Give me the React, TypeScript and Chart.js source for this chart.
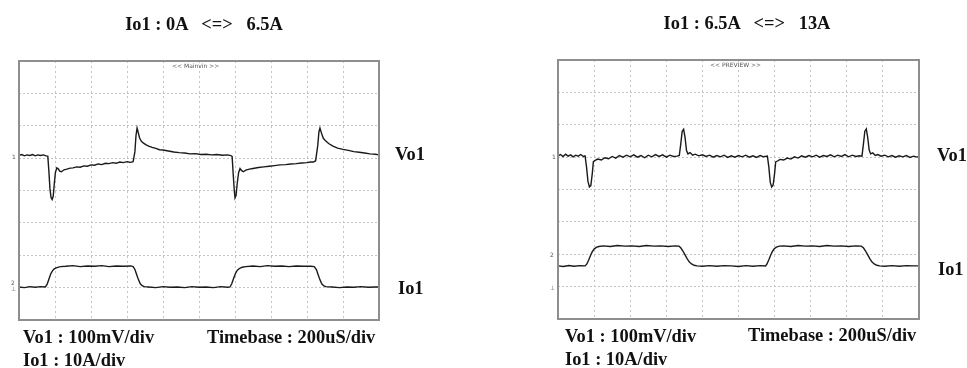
import React, { useEffect, useRef } from "react";
import { Chart, registerables } from "chart.js";

Chart.register(...registerables);

// Time axis: 10 divisions x 200 uS/div
const timeMinUs = 0;
const timeMaxUs = 2000;
const timeStepUs = 200;
// Vo1 axis: 100 mV/div, 8 divisions, channel-1 marker at 0
const vo1MinMv = -500;
const vo1MaxMv = 300;
const vo1StepMv = 100;
// Io1 axis: 10 A/div, channel-2 ground marker one division above bottom
const io1MinA = -10;
const io1MaxA = 70;

// Left capture: Io1 0A <=> 6.5A  ([time uS, deviation mV])
const leftVo1: [number, number][] = [
  [0, 9], [16, 11], [30, 7], [44, 10], [60, 8], [76, 11], [90, 7], [104, 10], [120, 8], [136, 10], [150, 7], [160, 6],
  [166, -40], [172, -95], [178, -122], [184, -128], [190, -118], [196, -80], [202, -45], [210, -30], [218, -33],
  [226, -40], [236, -42], [250, -36], [266, -34], [284, -31], [300, -30], [320, -27], [340, -28], [360, -24],
  [380, -25], [400, -21], [420, -22], [440, -18], [460, -20], [480, -16], [500, -17], [520, -14], [540, -16],
  [560, -12], [580, -14], [600, -11], [620, -13], [634, -11], [644, 20], [650, 70], [656, 93], [662, 80],
  [670, 62], [680, 52], [690, 47], [704, 42], [720, 37], [740, 33], [760, 30], [780, 26], [800, 25], [830, 22],
  [860, 19], [890, 17], [920, 16], [950, 13], [980, 14], [1010, 11], [1040, 12], [1070, 10], [1100, 11],
  [1130, 9], [1160, 10], [1176, 8], [1184, 5], [1190, -50], [1196, -100], [1200, -123], [1206, -115],
  [1212, -80], [1220, -45], [1228, -32], [1236, -38], [1246, -42], [1260, -37], [1280, -34], [1300, -32],
  [1330, -29], [1360, -27], [1390, -25], [1420, -23], [1450, -21], [1480, -20], [1510, -18], [1540, -17],
  [1570, -15], [1600, -14], [1620, -12], [1636, -12], [1648, -8], [1660, 40], [1666, 80], [1672, 93],
  [1680, 78], [1690, 62], [1700, 55], [1720, 45], [1744, 37], [1770, 31], [1800, 27], [1830, 24], [1860, 20],
  [1890, 18], [1920, 16], [1950, 13], [1980, 12], [2000, 10],
];

// [time uS, current A]
const leftIo1: [number, number][] = [
  [0, 0.2], [30, 0.0], [60, 0.3], [90, 0.1], [120, 0.3], [146, 0.2], [156, 1.0], [166, 2.6], [176, 4.2],
  [186, 5.2], [196, 5.8], [210, 6.2], [230, 6.5], [260, 6.6], [300, 6.8], [340, 6.5], [380, 6.7], [420, 6.6],
  [460, 6.8], [500, 6.5], [540, 6.7], [580, 6.6], [620, 6.7], [634, 6.5], [644, 5.6], [654, 4.0], [664, 2.4],
  [674, 1.2], [684, 0.6], [696, 0.3], [720, 0.2], [760, 0.0], [800, 0.3], [840, 0.1], [880, 0.2], [920, 0.0],
  [960, 0.3], [1000, 0.1], [1040, 0.2], [1080, 0.0], [1120, 0.3], [1160, 0.1], [1172, 0.2], [1182, 1.2],
  [1192, 2.8], [1202, 4.3], [1212, 5.3], [1224, 5.9], [1240, 6.3], [1260, 6.5], [1300, 6.7], [1340, 6.5],
  [1380, 6.8], [1420, 6.6], [1460, 6.7], [1500, 6.5], [1540, 6.7], [1580, 6.6], [1620, 6.6], [1640, 6.5],
  [1652, 5.6], [1662, 4.0], [1672, 2.4], [1682, 1.2], [1692, 0.6], [1704, 0.3], [1740, 0.2], [1780, 0.0],
  [1820, 0.2], [1860, 0.1], [1900, 0.3], [1940, 0.1], [1980, 0.2], [2000, 0.2],
];

// Right capture: Io1 6.5A <=> 13A
const rightVo1: [number, number][] = [
  [0, 4], [14, 8], [28, 2], [42, 9], [56, 3], [70, 7], [84, 1], [98, 6], [112, 3], [126, 8], [140, 2], [150, 4],
  [158, -30], [166, -75], [174, -92], [182, -88], [190, -50], [196, -14], [206, -10], [220, -6], [240, -9],
  [260, -2], [280, -5], [300, 2], [320, -3], [340, 5], [360, 0], [380, 6], [400, 1], [420, 7], [440, 0],
  [460, 5], [480, -2], [500, 6], [520, 1], [540, 8], [560, 2], [580, 7], [600, 0], [620, 6], [640, 2],
  [660, 3], [672, 5], [680, 40], [688, 80], [696, 86], [704, 60], [712, 20], [720, 10], [732, 14], [746, 6],
  [760, 9], [780, 4], [800, 7], [820, 2], [840, 6], [860, 0], [880, 5], [900, 1], [920, 6], [940, -1],
  [960, 4], [980, 0], [1000, 5], [1020, 1], [1040, 6], [1060, 0], [1080, 4], [1100, -1], [1120, 5],
  [1140, 1], [1160, 3], [1168, -30], [1176, -78], [1184, -92], [1192, -86], [1200, -50], [1206, -15],
  [1216, -12], [1230, -7], [1250, -9], [1270, -3], [1290, -6], [1310, 1], [1330, -3], [1350, 4], [1370, 0],
  [1390, 5], [1410, 1], [1430, 6], [1450, 0], [1470, 5], [1490, 2], [1510, 7], [1530, 1], [1550, 6],
  [1570, 2], [1590, 8], [1610, 1], [1630, 6], [1650, 2], [1670, 4], [1684, 3], [1692, 40], [1700, 80],
  [1708, 87], [1716, 60], [1724, 22], [1732, 10], [1744, 13], [1758, 5], [1772, 8], [1790, 3], [1810, 6],
  [1830, 1], [1850, 5], [1870, 0], [1890, 4], [1910, 1], [1930, 5], [1950, -1], [1970, 3], [1990, 0], [2000, 2],
];

const rightIo1: [number, number][] = [
  [0, 6.4], [30, 6.2], [60, 6.5], [90, 6.3], [120, 6.5], [150, 6.4], [160, 7.0], [170, 8.2], [180, 9.6],
  [190, 10.8], [200, 11.6], [212, 12.1], [226, 12.4], [250, 12.6], [290, 12.4], [330, 12.7], [370, 12.5],
  [410, 12.6], [450, 12.4], [490, 12.7], [530, 12.5], [570, 12.6], [610, 12.4], [650, 12.6], [670, 12.5],
  [680, 12.0], [692, 11.0], [704, 9.8], [716, 8.6], [728, 7.6], [740, 7.0], [754, 6.6], [770, 6.4],
  [800, 6.3], [840, 6.5], [880, 6.3], [920, 6.5], [960, 6.4], [1000, 6.2], [1040, 6.5], [1080, 6.3],
  [1120, 6.5], [1150, 6.4], [1158, 7.0], [1168, 8.3], [1178, 9.7], [1188, 10.9], [1198, 11.7], [1210, 12.2],
  [1226, 12.5], [1250, 12.6], [1290, 12.4], [1330, 12.7], [1370, 12.5], [1410, 12.6], [1450, 12.4],
  [1490, 12.7], [1530, 12.5], [1570, 12.6], [1610, 12.4], [1650, 12.6], [1680, 12.5], [1692, 12.0],
  [1704, 11.0], [1716, 9.8], [1728, 8.6], [1740, 7.6], [1752, 7.0], [1766, 6.6], [1782, 6.4], [1810, 6.3],
  [1850, 6.5], [1890, 6.3], [1930, 6.5], [1970, 6.4], [2000, 6.4],
];

const leftTitle = "Io1 : 0A   <=>   6.5A";
const rightTitle = "Io1 : 6.5A   <=>   13A";
const vo1Scale = "Vo1 : 100mV/div";
const io1Scale = "Io1 : 10A/div";
const timebase = "Timebase : 200uS/div";

const FONT = "'Liberation Serif', 'Times New Roman', serif";
const TEXT_SIZE = 18.4;

const framePlugin = {
  id: "scopeFrame",
  afterDatasetsDraw(chart: any) {
    const { ctx, chartArea } = chart;
    ctx.save();
    ctx.strokeStyle = "#8e8e8e";
    ctx.lineWidth = 2;
    ctx.strokeRect(chartArea.left, chartArea.top, chartArea.right - chartArea.left, chartArea.bottom - chartArea.top);
    ctx.restore();
  },
};

type PanelProps = {
  left: number;
  width: number;
  pad: { left: number; right: number; top: number; bottom: number };
  vo1: [number, number][];
  io1: [number, number][];
};

function ScopePanel({ left, width, pad, vo1, io1 }: PanelProps) {
  const ref = useRef<HTMLCanvasElement | null>(null);
  useEffect(() => {
    if (!ref.current) return;
    const trace = (pts: [number, number][], axis: string) => ({
      data: pts.map(([x, y]) => ({ x, y })),
      yAxisID: axis,
      borderColor: "#1a1a1a",
      borderWidth: 1.4,
      pointRadius: 0,
      tension: 0,
      fill: false,
    });
    const chart = new Chart(ref.current, {
      type: "line",
      data: { datasets: [trace(vo1, "yV"), trace(io1, "yI")] },
      options: {
        animation: false,
        responsive: false,
        maintainAspectRatio: false,
        events: [],
        layout: { padding: pad },
        plugins: { legend: { display: false }, tooltip: { enabled: false }, title: { display: false } },
        scales: {
          x: {
            type: "linear",
            min: timeMinUs,
            max: timeMaxUs,
            ticks: { display: false, stepSize: timeStepUs, autoSkip: false },
            grid: { color: "#c4c4c4", lineWidth: 1, drawTicks: false },
            border: { display: false, dash: [2, 3] },
          },
          yV: {
            type: "linear",
            position: "left",
            min: vo1MinMv,
            max: vo1MaxMv,
            ticks: { display: false, stepSize: vo1StepMv, autoSkip: false },
            grid: { color: "#c4c4c4", lineWidth: 1, drawTicks: false },
            border: { display: false, dash: [2, 2] },
          },
          yI: {
            type: "linear",
            display: false,
            min: io1MinA,
            max: io1MaxA,
          },
        },
      },
      plugins: [framePlugin],
    } as any);
    return () => chart.destroy();
  }, []);
  return (
    <canvas
      ref={ref}
      width={width}
      height={368}
      style={{ position: "absolute", left, top: 0, width, height: 368 }}
    />
  );
}

function Label({ text, x, cy, center }: { text: string; x: number; cy: number; center?: boolean }) {
  return (
    <div
      style={{
        position: "absolute",
        left: x,
        top: cy - 11,
        height: 22,
        lineHeight: "22px",
        fontFamily: FONT,
        fontWeight: "bold",
        fontSize: TEXT_SIZE,
        color: "#111",
        whiteSpace: "pre",
        transform: center ? "translateX(-50%)" : undefined,
      }}
    >
      {text}
    </div>
  );
}

function Tiny({ text, x, cy }: { text: string; x: number; cy: number }) {
  return (
    <div
      style={{
        position: "absolute",
        left: x,
        top: cy - 5,
        height: 10,
        lineHeight: "10px",
        fontFamily: "'DejaVu Sans', sans-serif",
        fontSize: 6,
        color: "#555",
        whiteSpace: "pre",
      }}
    >
      {text}
    </div>
  );
}

export default function App() {
  return (
    <div style={{ position: "absolute", left: 0, top: 0, width: 967, height: 368, background: "#fff", overflow: "hidden" }}>
      <ScopePanel left={0} width={484} pad={{ left: 19, top: 61, right: 105, bottom: 48 }} vo1={leftVo1} io1={leftIo1} />
      <ScopePanel left={484} width={483} pad={{ left: 74, top: 60, right: 48, bottom: 49 }} vo1={rightVo1} io1={rightIo1} />

      <Label text={leftTitle} x={204} cy={24} center />
      <Label text={rightTitle} x={747} cy={23} center />

      <Label text="Vo1" x={395} cy={154} />
      <Label text="Io1" x={398} cy={288} />
      <Label text="Vo1" x={937} cy={155} />
      <Label text="Io1" x={938} cy={269} />

      <Label text={vo1Scale} x={23} cy={337} />
      <Label text={timebase} x={207} cy={337} />
      <Label text={io1Scale} x={23} cy={360} />
      <Label text={vo1Scale} x={565} cy={336} />
      <Label text={timebase} x={748} cy={335} />
      <Label text={io1Scale} x={565} cy={359} />

      <Tiny text="<< Mainvin >>" x={172} cy={66} />
      <Tiny text="<< PREVIEW >>" x={710} cy={65} />
      <Tiny text="1" x={12} cy={157} />
      <Tiny text="2" x={11} cy={283} />
      <Tiny text="⊥" x={11} cy={289} />
      <Tiny text="1" x={552} cy={157} />
      <Tiny text="2" x={550} cy={255} />
      <Tiny text="⊥" x={550} cy={288} />
    </div>
  );
}
